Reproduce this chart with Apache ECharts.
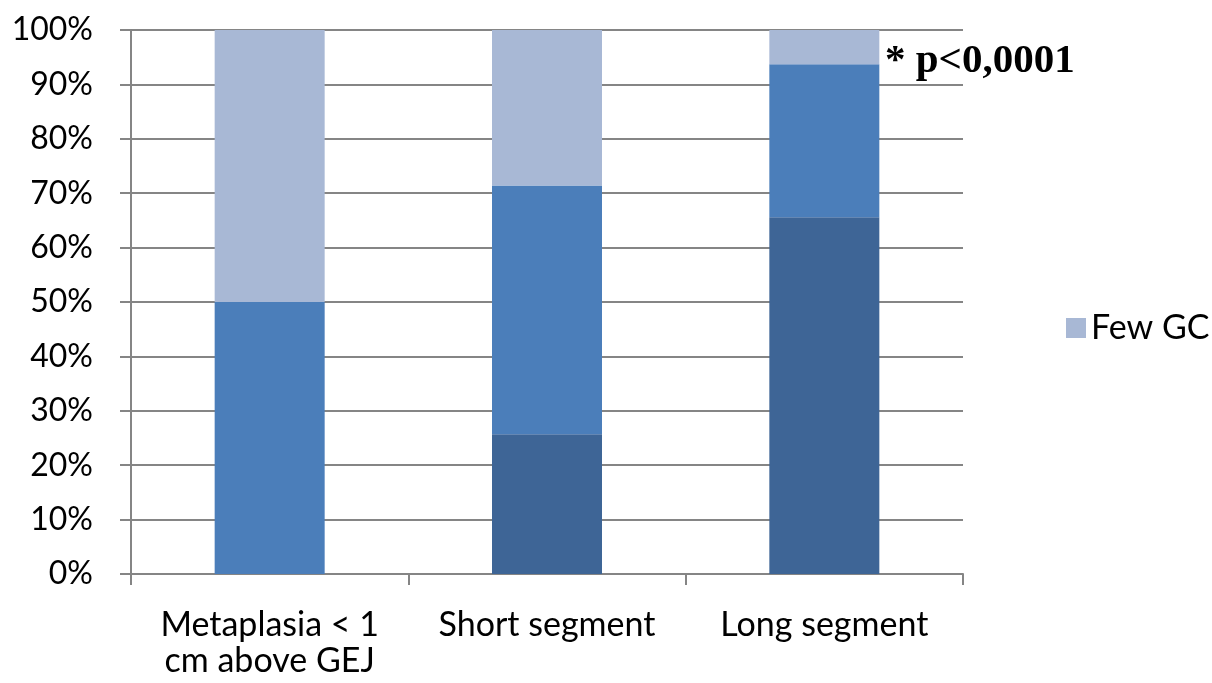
<!DOCTYPE html>
<html>
<head>
<meta charset="utf-8">
<script src="https://cdn.jsdelivr.net/npm/echarts@6/dist/echarts.min.js"></script>
<style>
  html, body { margin: 0; padding: 0; background: #fff; }
  #chart { width: 1212px; height: 683px; }
</style>
</head>
<body>
<div id="chart"></div>
<script>
// Categories along the x axis
const categories = ['Metaplasia < 1\ncm above GEJ', 'Short segment', 'Long segment'];

// Percent shares per category (stacked bottom to top)
const manyGC = [0, 25.7, 65.6];
const someGC = [50, 45.7, 28.1];
const fewGC = [50, 28.6, 6.3];

// Y tick settings
const yMin = 0;
const yMax = 100;
const yStep = 10;

const axisGray = '#858585';
const fontFamily = 'Lato, "Open Sans", sans-serif';

const chart = echarts.init(document.getElementById('chart'), null, { renderer: 'canvas' });

chart.setOption({
  animation: false,
  backgroundColor: '#ffffff',
  grid: { left: 131, right: 249, top: 30, bottom: 109, containLabel: false },
  legend: {
    data: ['Few GC'],
    left: 1061,
    top: 306,
    orient: 'vertical',
    icon: 'rect',
    itemWidth: 20,
    itemHeight: 20,
    itemGap: 10,
    textStyle: { fontSize: 34, color: '#000', fontFamily: fontFamily }
  },
  xAxis: {
    type: 'category',
    data: categories,
    boundaryGap: true,
    axisLine: { show: true, lineStyle: { color: axisGray, width: 2 } },
    axisTick: { show: true, length: 11, alignWithLabel: false, lineStyle: { color: axisGray, width: 2 } },
    axisLabel: {
      interval: 0,
      margin: 33,
      fontSize: 34,
      lineHeight: 36,
      color: '#000',
      fontFamily: fontFamily
    }
  },
  yAxis: {
    type: 'value',
    min: yMin,
    max: yMax,
    interval: yStep,
    axisLine: { show: true, lineStyle: { color: axisGray, width: 2 } },
    axisTick: { show: true, length: 11, lineStyle: { color: axisGray, width: 2 } },
    splitLine: { show: true, lineStyle: { color: axisGray, width: 2 } },
    axisLabel: {
      formatter: '{value}%',
      margin: 38,
      fontSize: 32,
      color: '#000',
      fontFamily: fontFamily
    }
  },
  series: [
    {
      name: 'Many GC',
      type: 'bar',
      stack: 'total',
      barWidth: 110,
      data: manyGC,
      itemStyle: { color: '#3E6596' }
    },
    {
      name: 'Some GC',
      type: 'bar',
      stack: 'total',
      barWidth: 110,
      data: someGC,
      itemStyle: { color: '#4B7EBA' }
    },
    {
      name: 'Few GC',
      type: 'bar',
      stack: 'total',
      barWidth: 110,
      data: fewGC,
      itemStyle: { color: '#A8B8D5' }
    }
  ],
  graphic: [
    {
      type: 'text',
      left: 885,
      top: 41,
      style: {
        text: '* p<0,0001',
        font: 'bold 41px "Liberation Serif", "Times New Roman", serif',
        fill: '#000'
      }
    }
  ]
});
</script>
</body>
</html>
